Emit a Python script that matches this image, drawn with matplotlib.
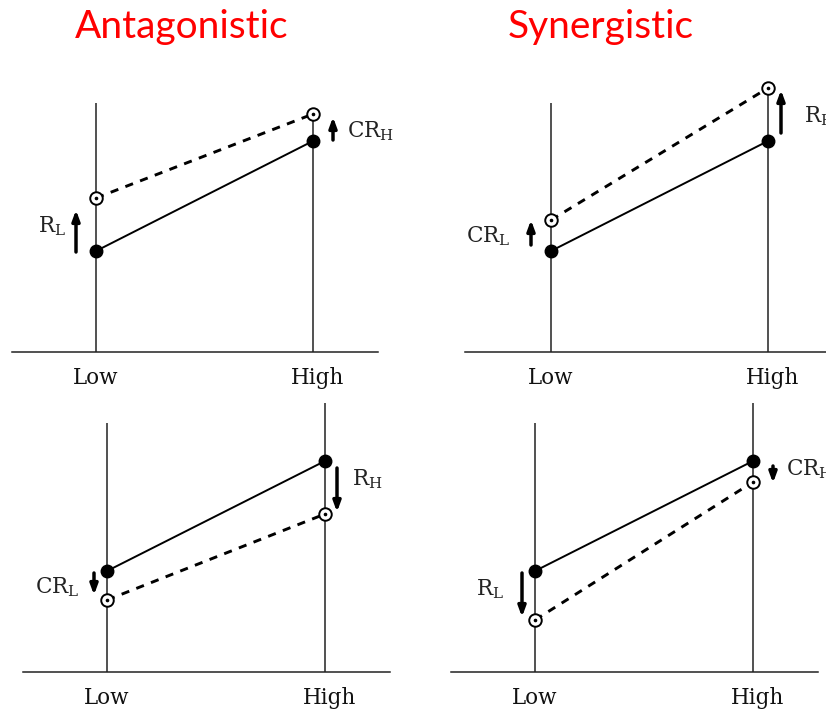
import matplotlib
matplotlib.use("Agg")
import matplotlib.pyplot as plt
import matplotlib.transforms as mtransforms

# ---------------- data ----------------
categories = ["Low", "High"]
titles = ["Antagonistic", "Synergistic"]

# response values (arbitrary units) at Low / High
ant_up_filled = [4.04, 8.44]
ant_up_open = [6.16, 9.52]
syn_up_filled = [4.04, 8.44]
syn_up_open = [5.28, 10.56]
ant_down_filled = [4.04, 8.44]
ant_down_open = [2.88, 6.32]
syn_down_filled = [4.04, 8.44]
syn_down_open = [2.08, 7.60]

# height of the vertical guide lines at Low / High
ant_up_guides = [9.96, 9.52]
syn_up_guides = [9.96, 10.56]
ant_down_guides = [9.96, 10.76]
syn_down_guides = [9.96, 10.76]

# arrows: (label, subscript, category index, start value, end value)
ant_up_arrows = [("R", "L", 0, 4.00, 5.68), ("CR", "H", 1, 8.48, 9.40)]
syn_up_arrows = [("CR", "L", 0, 4.28, 5.28), ("R", "H", 1, 8.76, 10.48)]
ant_down_arrows = [("CR", "L", 0, 3.96, 3.08), ("R", "H", 1, 8.16, 6.40)]
syn_down_arrows = [("R", "L", 0, 3.96, 2.20), ("CR", "H", 1, 8.24, 7.56)]

# ---------------- layout (pixels) ----------------
W, H = 826, 710
UNIT = 25.0  # pixels per value unit
panels = [
    dict(base=352, left=12, right=378, low=96, high=313, top=60,
         filled=ant_up_filled, open=ant_up_open, guides=ant_up_guides,
         arrows=ant_up_arrows, arrow_dx=[-20, 20],
         labels=[(38, 232), (347, 137)]),
    dict(base=352, left=465, right=840, low=551, high=768, top=60,
         filled=syn_up_filled, open=syn_up_open, guides=syn_up_guides,
         arrows=syn_up_arrows, arrow_dx=[-20, 13],
         labels=[(466, 242), (804, 122)]),
    dict(base=672, left=23, right=390, low=107, high=325, top=395,
         filled=ant_down_filled, open=ant_down_open, guides=ant_down_guides,
         arrows=ant_down_arrows, arrow_dx=[-13, 12],
         labels=[(35, 593), (352, 485)]),
    dict(base=672, left=451, right=818, low=535, high=753, top=395,
         filled=syn_down_filled, open=syn_down_open, guides=syn_down_guides,
         arrows=syn_down_arrows, arrow_dx=[-13, 20],
         labels=[(476, 595), (786, 475)]),
]

fig = plt.figure(figsize=(W / 100, H / 100), dpi=100)
serif = "DejaVu Serif"
plt.rcParams["mathtext.fontset"] = "dejavuserif"

for p in panels:
    ax = fig.add_axes([p["left"] / W, (H - p["base"]) / H,
                       (p["right"] - p["left"]) / W, (p["base"] - p["top"]) / H])
    xu = p["high"] - p["low"]
    ax.set_xlim((p["left"] - p["low"]) / xu, (p["right"] - p["low"]) / xu)
    ax.set_ylim(0, (p["base"] - p["top"]) / UNIT)
    ax.patch.set_alpha(0)
    for s in ["top", "right", "left"]:
        ax.spines[s].set_visible(False)
    ax.spines["bottom"].set_linewidth(1.1)
    ax.spines["bottom"].set_color("#222222")
    ax.set_yticks([])
    xs = list(range(len(categories)))
    ax.set_xticks(xs)
    ax.set_xticklabels(categories, fontsize=15.5, family=serif, color="#111111")
    ax.tick_params(axis="x", length=0, pad=11)
    lbls = ax.get_xticklabels()
    off = mtransforms.ScaledTranslation(5 / 100, 0, fig.dpi_scale_trans)
    lbls[1].set_transform(lbls[1].get_transform() + off)

    # guide lines
    ax.vlines(xs, 0, p["guides"], color="#222222", lw=1.1, zorder=1, clip_on=False)
    # solid line with filled markers
    ax.plot(xs, p["filled"], color="black", lw=1.4, zorder=3, clip_on=False)
    ax.plot(xs, p["filled"], "o", color="black", ms=9, zorder=5, clip_on=False)
    # dashed line with open markers
    ax.plot(xs, p["open"], color="black", lw=2.1, dashes=(2.8, 2.6), zorder=3,
            clip_on=False)
    ax.plot(xs, p["open"], "o", mfc="white", mec="black", mew=1.4, ms=9,
            zorder=5, clip_on=False)
    ax.plot(xs, p["open"], "o", color="black", ms=1.6, zorder=6, clip_on=False)

    # arrows and labels
    for (name, sub, ci, y0, y1), dx, (lx, ly) in zip(p["arrows"], p["arrow_dx"], p["labels"]):
        ax_x = ci + dx / xu
        ax.annotate("", xy=(ax_x, y1), xytext=(ax_x, y0),
                    arrowprops=dict(arrowstyle="-|>,head_length=0.6,head_width=0.22",
                                    lw=2.5, color="black", shrinkA=0, shrinkB=0),
                    annotation_clip=False)
        ax.text((lx - p["low"]) / xu, (p["base"] - ly) / UNIT,
                name + r"$_\mathregular{" + sub + "}$",
                family=serif, fontsize=15.5, color="#222222",
                ha="left", va="baseline", clip_on=False)

# titles
title_x = [182, 601]
for t, x in zip(titles, title_x):
    fig.text(x / W, 1 - 38 / H, t, family="Lato", fontsize=28, color="#FF0000",
             ha="center", va="baseline")

fig.savefig("out.png", dpi=100)
